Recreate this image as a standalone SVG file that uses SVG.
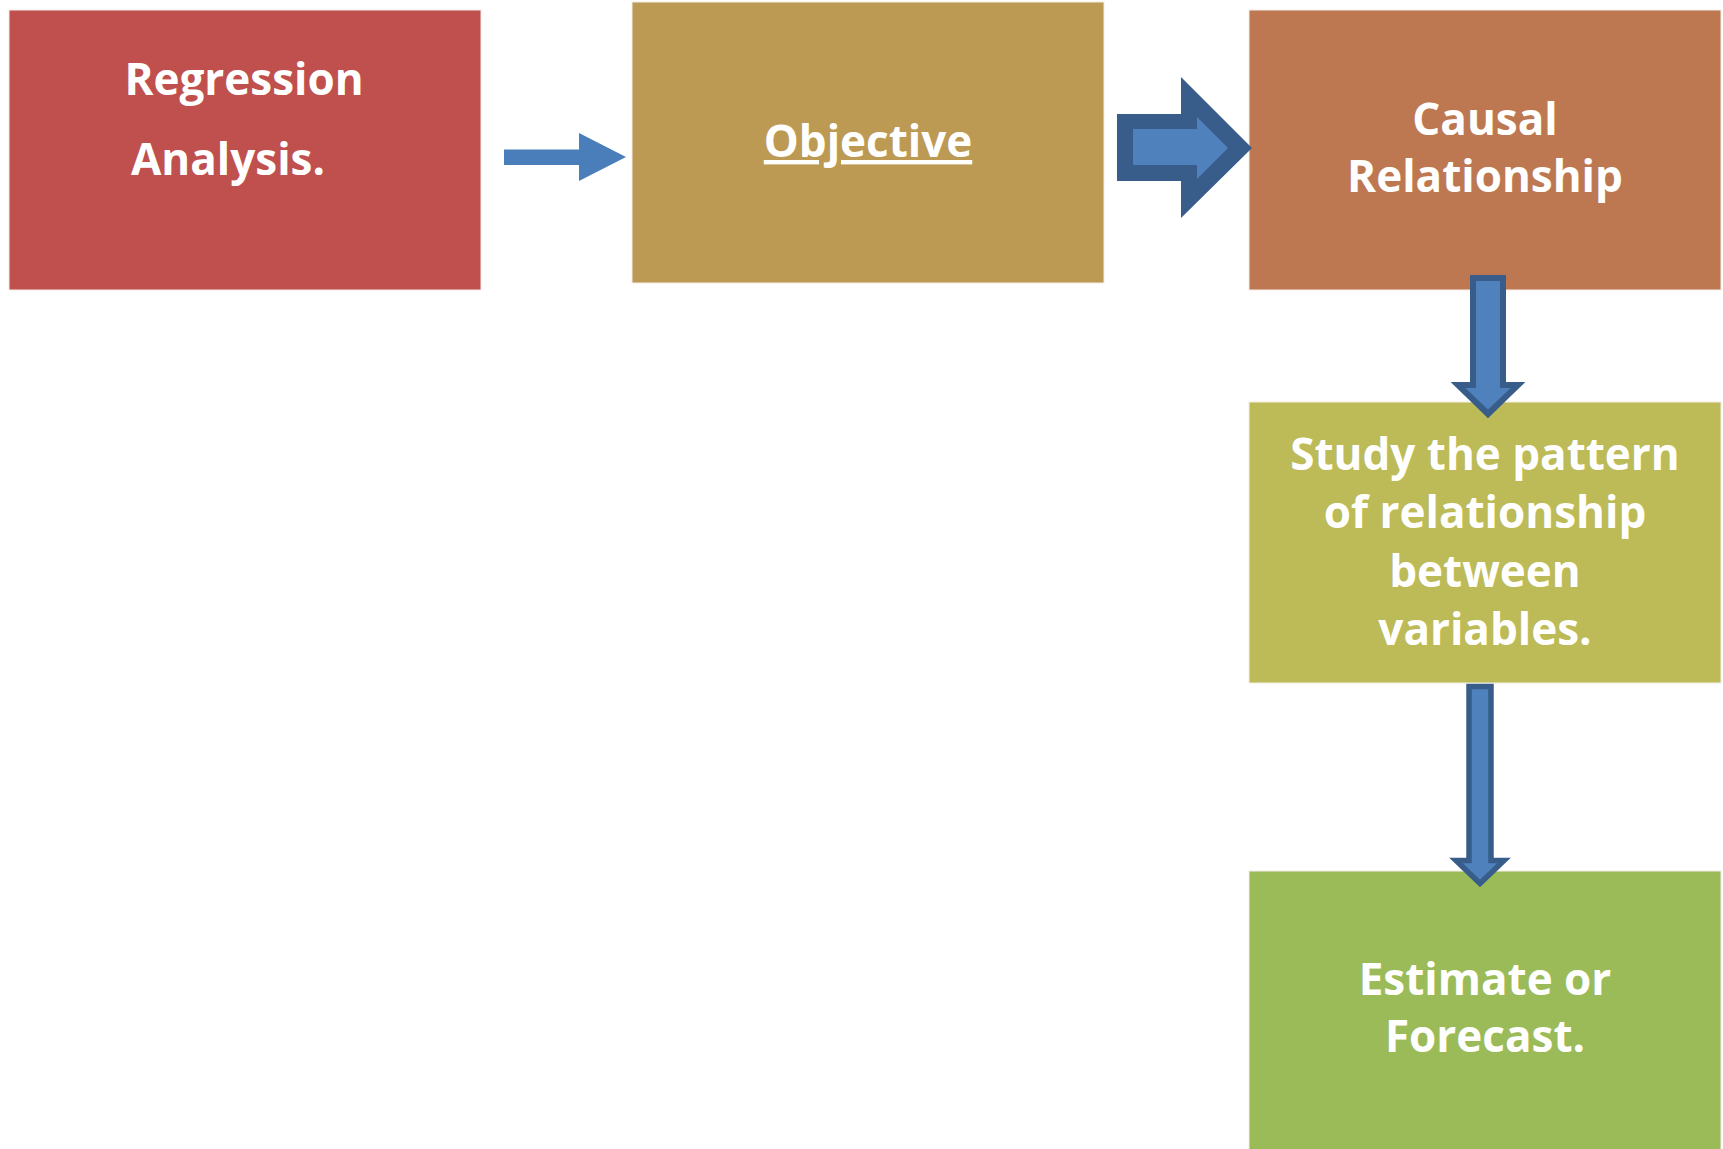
<svg xmlns="http://www.w3.org/2000/svg" width="1723" height="1149" viewBox="0 0 1723 1149">
<style>
.box{stroke:#f4ece8;stroke-width:1}
.t{font-family:"Open Sans","Liberation Sans",sans-serif;font-weight:bold;font-size:44px;fill:#ffffff;text-anchor:middle}
.arr{fill:#4F81BD;stroke:#385D8A;stroke-linejoin:miter;stroke-miterlimit:10}
</style>
<rect width="1723" height="1149" fill="#ffffff"/>
<g id="n1">
  <rect class="box" x="9" y="10" width="472" height="280" fill="#C0504D"/>
  <text class="t" x="244" y="95">Regression</text>
  <text class="t" x="228" y="175">Analysis.</text>
</g>
<g id="n2">
  <rect class="box" x="632" y="2" width="472" height="281" fill="#BD9A53"/>
  <text class="t" x="868" y="157" text-decoration="underline">Objective</text>
</g>
<g id="n3">
  <rect class="box" x="1249" y="10" width="472" height="280" fill="#BE7851"/>
  <text class="t" x="1485" y="135">Causal</text>
  <text class="t" x="1485" y="192">Relationship</text>
</g>
<g id="n4">
  <rect class="box" x="1249" y="402" width="472" height="281" fill="#BCBB57"/>
  <text class="t" x="1485" y="470">Study the pattern</text>
  <text class="t" x="1485" y="528">of relationship</text>
  <text class="t" x="1485" y="587">between</text>
  <text class="t" x="1485" y="645">variables.</text>
</g>
<g id="n5">
  <rect class="box" x="1249" y="871" width="472" height="279" fill="#9BBB59"/>
  <text class="t" x="1485" y="995">Estimate or</text>
  <text class="t" x="1485" y="1052">Forecast.</text>
</g>
<g id="connectors">
  <polygon id="a1" points="504,149.5 579,149.5 579,133 626,157 579,181 579,165 504,165" fill="#4A7EBB"/>
  <g id="a2">
    <polygon points="1117,114 1181,114 1181,77 1252,148 1181,218 1181,181 1117,181" fill="#385D8A"/>
    <polygon points="1133,129 1197,129 1197,117 1228,148 1197,179 1197,165 1133,165" fill="#4F81BD"/>
  </g>
  <polygon id="a3" class="arr" stroke-width="6" points="1473,278 1503,278 1503,385 1518,385 1488,414 1458,385 1473,385"/>
  <polygon id="a4" class="arr" stroke-width="5.5" points="1469,686.5 1491,686.5 1491,860.5 1504,860.5 1480,883.5 1456,860.5 1469,860.5"/>
</g>
</svg>
